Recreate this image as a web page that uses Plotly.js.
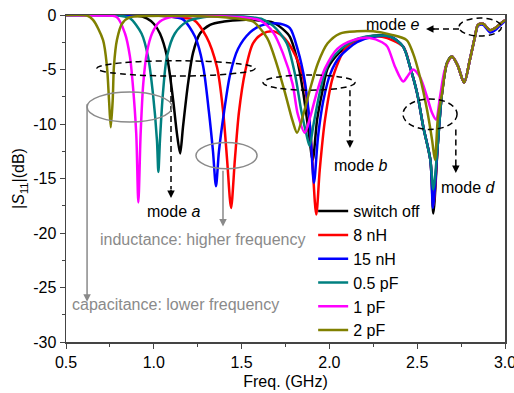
<!DOCTYPE html>
<html>
<head>
<meta charset="utf-8">
<script src="https://cdn.plot.ly/plotly-3.0.1.min.js"></script>
<style>html,body{margin:0;padding:0;background:#fff;}#chart{width:514px;height:393px;}</style>
</head>
<body>
<div id="chart"></div>
<script>
// ---- data ----
const seriesNames = ["switch off", "8 nH", "15 nH", "0.5 pF", "1 pF", "2 pF"];
const seriesColors = ["#000000", "#FF0000", "#0000FF", "#008080", "#FF00FF", "#808000"];

const offF = [0.5, 0.9, 0.96, 1.0, 1.035, 1.075, 1.11, 1.132, 1.15, 1.166, 1.195, 1.223, 1.263, 1.32, 1.4, 1.5, 1.6, 1.68, 1.735, 1.775, 1.815, 1.85, 1.88, 1.905, 1.93, 1.96, 1.99, 2.06, 2.157, 2.25, 2.35, 2.42, 2.46, 2.5, 2.535, 2.575, 2.592, 2.618, 2.641, 2.67, 2.698, 2.73, 2.767, 2.80, 2.829, 2.846, 2.875, 2.915, 2.943, 2.989, 3.0];
const offS = [0, -0.05, -0.3, -0.8, -1.7, -3.8, -7.8, -10.9, -12.7, -10.3, -6.3, -3.5, -1.7, -0.9, -0.6, -0.45, -0.5, -0.7, -1.3, -2.0, -4.0, -7.0, -10.5, -13.3, -9.6, -7.0, -4.9, -3.4, -2.3, -1.9, -2.0, -2.9, -4.8, -7.2, -10.3, -13.3, -18.2, -11.7, -7.2, -4.4, -3.8, -4.6, -6.2, -4.1, -2.0, -0.9, -0.8, -1.4, -1.2, -0.6, -0.5];

const nH8F = [0.5, 1.0, 1.1, 1.15, 1.223, 1.30, 1.36, 1.395, 1.417, 1.44, 1.462, 1.485, 1.52, 1.565, 1.62, 1.68, 1.735, 1.79, 1.85, 1.89, 1.925, 1.945, 1.975, 2.02, 2.10, 2.2, 2.3, 2.42, 2.46, 2.5, 2.535, 2.575, 2.592, 2.618, 2.641, 2.67, 2.698, 2.73, 2.767, 2.80, 2.829, 2.846, 2.875, 2.915, 2.943, 2.989, 3.0];
const nH8S = [0, -0.05, -0.15, -0.25, -0.4, -2.0, -4.8, -8.9, -13.2, -17.7, -13.2, -8.9, -5.2, -2.6, -1.7, -1.5, -2.0, -3.2, -5.7, -10.3, -18.3, -14.2, -9.6, -5.7, -2.9, -2.1, -2.0, -2.9, -4.8, -7.2, -10.3, -13.3, -17.5, -11.7, -7.2, -4.4, -3.8, -4.6, -6.2, -4.1, -2.0, -0.9, -0.8, -1.4, -1.2, -0.6, -0.5];

const nH15F = [0.5, 1.0, 1.1, 1.166, 1.235, 1.28, 1.314, 1.337, 1.354, 1.371, 1.40, 1.434, 1.48, 1.548, 1.605, 1.66, 1.72, 1.775, 1.82, 1.86, 1.89, 1.912, 1.935, 1.965, 2.005, 2.06, 2.157, 2.25, 2.35, 2.42, 2.46, 2.5, 2.535, 2.575, 2.59, 2.618, 2.641, 2.67, 2.698, 2.73, 2.767, 2.80, 2.829, 2.846, 2.875, 2.915, 2.943, 2.989, 3.0];
const nH15S = [0, -0.05, -0.15, -0.4, -2.0, -4.6, -8.9, -12.5, -15.7, -12.5, -8.9, -5.5, -3.1, -1.6, -1.0, -0.8, -0.8, -1.2, -3.2, -6.1, -10.3, -15.4, -11.2, -7.9, -5.4, -3.8, -2.5, -2.0, -2.0, -2.9, -4.8, -7.2, -10.3, -13.3, -17.7, -11.7, -7.2, -4.4, -3.8, -4.6, -6.2, -4.1, -2.0, -1.0, -0.9, -1.6, -1.4, -0.7, -0.6];

const pF05F = [0.5, 0.8, 0.864, 0.93, 0.967, 0.995, 1.018, 1.026, 1.035, 1.052, 1.075, 1.12, 1.19, 1.28, 1.4, 1.55, 1.62, 1.68, 1.72, 1.76, 1.805, 1.84, 1.87, 1.887, 1.91, 1.94, 1.97, 2.0, 2.06, 2.157, 2.25, 2.35, 2.42, 2.46, 2.5, 2.535, 2.575, 2.592, 2.618, 2.641, 2.67, 2.698, 2.73, 2.767, 2.80, 2.829, 2.846, 2.875, 2.915, 2.943, 2.989, 3.0];
const pF05S = [0, -0.05, -0.3, -1.7, -3.8, -7.2, -11.5, -14.4, -11.5, -7.2, -3.8, -1.7, -0.6, -0.2, -0.1, -0.2, -0.4, -1.0, -1.7, -2.7, -5.5, -8.8, -11.0, -12.0, -10.0, -7.5, -5.5, -4.3, -3.2, -2.2, -1.9, -2.0, -2.9, -4.8, -7.2, -10.3, -13.3, -16.0, -11.7, -7.2, -4.4, -3.8, -4.6, -6.2, -4.1, -2.0, -0.9, -0.8, -1.4, -1.2, -0.6, -0.5];

const pF1F = [0.5, 0.7, 0.79, 0.836, 0.864, 0.88, 0.90, 0.912, 0.925, 0.94, 0.96, 0.99, 1.035, 1.11, 1.3, 1.5, 1.605, 1.68, 1.735, 1.79, 1.82, 1.86, 1.89, 1.93, 1.975, 2.045, 2.135, 2.23, 2.30, 2.33, 2.375, 2.42, 2.45, 2.476, 2.516, 2.556, 2.585, 2.607, 2.63, 2.658, 2.698, 2.73, 2.767, 2.80, 2.829, 2.846, 2.875, 2.915, 2.943, 2.989, 3.0];
const pF1S = [0, -0.05, -0.2, -1.7, -3.8, -6.3, -10.9, -17.2, -10.9, -6.3, -3.5, -1.7, -0.6, -0.15, -0.1, -0.2, -0.5, -1.6, -3.5, -6.3, -9.1, -10.8, -9.4, -7.0, -4.9, -3.1, -2.3, -2.1, -2.5, -2.9, -4.8, -6.1, -5.5, -5.0, -5.7, -7.5, -9.0, -9.6, -7.5, -5.0, -3.8, -4.6, -6.2, -4.1, -2.0, -0.9, -0.8, -1.4, -1.2, -0.6, -0.5];

const pF2F = [0.5, 0.62, 0.654, 0.711, 0.733, 0.745, 0.755, 0.766, 0.773, 0.79, 0.819, 0.864, 0.95, 1.2, 1.4, 1.49, 1.565, 1.645, 1.70, 1.75, 1.79, 1.816, 1.85, 1.89, 1.935, 1.99, 2.06, 2.157, 2.25, 2.35, 2.44, 2.476, 2.516, 2.556, 2.585, 2.601, 2.618, 2.641, 2.67, 2.698, 2.73, 2.767, 2.80, 2.829, 2.846, 2.875, 2.915, 2.943, 2.989, 3.0];
const pF2S = [0, -0.05, -0.45, -2.3, -4.7, -7.8, -10.3, -7.8, -4.7, -2.3, -0.8, -0.2, -0.1, -0.1, -0.2, -0.35, -0.6, -2.1, -4.5, -7.3, -9.7, -10.8, -9.2, -6.8, -4.4, -2.6, -1.7, -1.5, -1.5, -1.8, -2.3, -3.5, -5.7, -8.7, -11.5, -13.3, -9.4, -7.2, -4.4, -3.8, -4.6, -6.2, -4.1, -2.0, -0.9, -0.8, -1.4, -1.2, -0.6, -0.5];

const xTickVals = [0.5, 1.0, 1.5, 2.0, 2.5, 3.0];
const xTickText = ["0.5", "1.0", "1.5", "2.0", "2.5", "3.0"];
const yTickVals = [0, -5, -10, -15, -20, -25, -30];
const yTickText = ["0", "-5", "-10", "-15", "-20", "-25", "-30"];

// ---- traces ----
const fs = [offF, nH8F, nH15F, pF05F, pF1F, pF2F];
const ss = [offS, nH8S, nH15S, pF05S, pF1S, pF2S];
const traces = seriesNames.map((n, i) => ({
  type: "scatter", mode: "lines", name: n, x: fs[i], y: ss[i],
  line: {color: seriesColors[i], width: 2.5, shape: "spline", smoothing: 0.8}
}));

const FONT = "Arial, 'Liberation Sans', sans-serif";
const dash = {color: "#000", width: 1.5, dash: "6px,4px"};
const gray = "#8a8a8a";

const shapes = [
  // dashed ellipses for modes
  {type: "circle", xref: "x", yref: "y", x0: 0.676, x1: 1.576, y0: -4.2, y1: -5.6, line: dash},
  {type: "circle", xref: "x", yref: "y", x0: 1.622, x1: 2.146, y0: -5.5, y1: -6.9, line: dash},
  {type: "circle", xref: "x", yref: "y", x0: 2.419, x1: 2.727, y0: -7.7, y1: -10.5, line: dash},
  {type: "circle", xref: "x", yref: "y", x0: 2.738, x1: 2.98, y0: -0.28, y1: -1.93, line: dash},
  // dashed arrow shafts
  {type: "line", xref: "x", yref: "y", x0: 1.098, x1: 1.098, y0: -5.6, y1: -16.0, line: dash},
  {type: "line", xref: "x", yref: "y", x0: 2.117, x1: 2.117, y0: -6.9, y1: -11.5, line: dash},
  {type: "line", xref: "x", yref: "y", x0: 2.72, x1: 2.72, y0: -10.5, y1: -13.8, line: dash},
  {type: "line", xref: "x", yref: "y", x0: 2.738, x1: 2.58, y0: -1.28, y1: -1.28, line: dash},
  // gray ellipses
  {type: "circle", xref: "x", yref: "y", x0: 0.62, x1: 1.104, y0: -7.06, y1: -9.82, line: {color: gray, width: 1.5}},
  {type: "circle", xref: "x", yref: "y", x0: 1.24, x1: 1.588, y0: -11.7, y1: -14.1, line: {color: gray, width: 1.5}}
];

const txt = (t, x, y, color) => ({text: t, x: x, y: y, xref: "x", yref: "y", showarrow: false,
  font: {family: FONT, size: 16, color: color || "#000"}});
const head = (x, y, ax, ay) => ({text: " ", x: x, y: y, xref: "x", yref: "y", showarrow: true,
  ax: ax, ay: ay, arrowhead: 2, arrowsize: 1, arrowwidth: 1.5, arrowcolor: "#000", font: {size: 1}});

const annotations = [
  txt("mode <i>a</i>", 1.11, -18.0),
  txt("mode <i>b</i>", 2.175, -13.8),
  txt("mode <i>d</i>", 2.79, -15.8),
  txt("mode <i>e</i>", 2.362, -0.83),
  head(1.098, -16.8, 0, -10),
  head(2.117, -12.2, 0, -10),
  head(2.72, -14.5, 0, -10),
  head(2.55, -1.28, 10, 0),
  {text: " ", font: {size: 1}, x: 0.62, y: -26.3, ax: 0.62, ay: -8.0, xref: "x", yref: "y", axref: "x", ayref: "y",
   showarrow: true, arrowhead: 2, arrowsize: 1, arrowwidth: 1.5, arrowcolor: gray},
  {text: " ", font: {size: 1}, x: 1.394, y: -19.4, ax: 1.394, ay: -14.1, xref: "x", yref: "y", axref: "x", ayref: "y",
   showarrow: true, arrowhead: 2, arrowsize: 1, arrowwidth: 1.5, arrowcolor: gray},
  txt("capacitance: lower frequency", 1.126, -26.6, gray),
  txt("inductance: higher frequency", 1.28, -20.6, gray)
];

const layout = {
  width: 514, height: 393,
  margin: {l: 66, r: 9, t: 15, b: 51},
  paper_bgcolor: "#fff", plot_bgcolor: "#fff",
  font: {family: FONT, size: 16, color: "#000"},
  showlegend: true,
  legend: {x: 0.563, y: 0.452, xanchor: "left", yanchor: "top", bgcolor: "rgba(0,0,0,0)",
           font: {family: FONT, size: 16, color: "#000"}},
  xaxis: {range: [0.5, 3.0], tickvals: xTickVals, ticktext: xTickText, ticks: "outside", ticklen: 5,
          ticklabeloverflow: "allow",
          showgrid: false, zeroline: false, showline: true, mirror: true, linecolor: "#444", linewidth: 1.5,
          minor: {dtick: 0.25, ticks: "outside", ticklen: 3, showgrid: false},
          tickfont: {family: FONT, size: 16}, title: {text: "Freq. (GHz)", font: {family: FONT, size: 16}, standoff: 6}},
  yaxis: {range: [-30, 0], tickvals: yTickVals, ticktext: yTickText, ticks: "outside", ticklen: 5,
          showgrid: false, zeroline: false, showline: true, mirror: true, linecolor: "#444", linewidth: 1.5,
          minor: {dtick: 2.5, ticks: "outside", ticklen: 3, showgrid: false},
          tickfont: {family: FONT, size: 16}, title: {text: "|<i>S</i><sub>11</sub>|(dB)", font: {family: FONT, size: 16}, standoff: 4}},
  shapes: shapes,
  annotations: annotations
};

Plotly.newPlot("chart", traces, layout, {displayModeBar: false, staticPlot: true});
</script>
</body>
</html>
